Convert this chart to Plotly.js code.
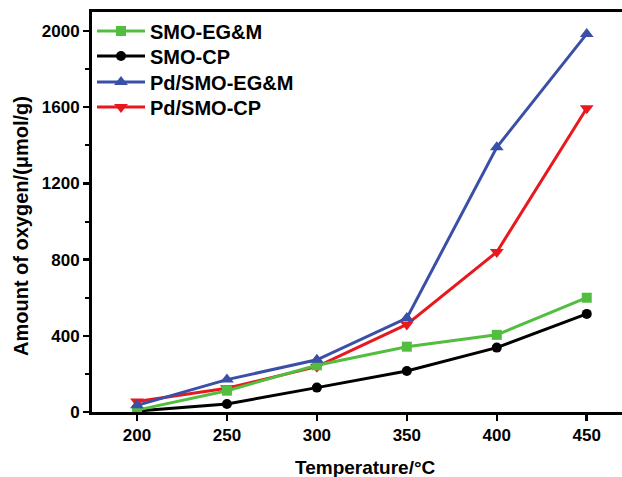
<!DOCTYPE html>
<html>
<head>
<meta charset="utf-8">
<script src="https://cdn.plot.ly/plotly-3.0.1.min.js"></script>
<style>html,body{margin:0;padding:0;background:#fff;}#chart{width:622px;height:477px;}</style>
</head>
<body>
<div id="chart"></div>
<script>
var temperatures = [200, 250, 300, 350, 400, 450];
var smoEGM = [10, 112, 245, 343, 405, 600];
var smoCP = [5, 42, 128, 215, 338, 515];
var pdSmoEGM = [35, 170, 274, 493, 1390, 1985];
var pdSmoCP = [55, 125, 238, 460, 840, 1595];
var seriesNames = ['SMO-EG&M', 'SMO-CP', 'Pd/SMO-EG&M', 'Pd/SMO-CP'];
var yTickValues = [0, 400, 800, 1200, 1600, 2000];
var xTickValues = [200, 250, 300, 350, 400, 450];

var fontFam = '"Liberation Sans", Arial, sans-serif';

function mk(name, y, color, symbol, size, legendId) {
  return {
    x: temperatures, y: y, name: name, type: 'scatter', mode: 'lines+markers',
    line: {color: color, width: 3},
    marker: {color: color, symbol: symbol, size: size},
    legend: legendId
  };
}

var traces = [
  mk(seriesNames[3], pdSmoCP, '#e8191e', 'triangle-down', 12, 'legend4'),
  mk(seriesNames[1], smoCP, '#000000', 'circle', 10, 'legend2'),
  mk(seriesNames[0], smoEGM, '#52bd3f', 'square', 10, 'legend'),
  mk(seriesNames[2], pdSmoEGM, '#3a4fa6', 'triangle-up', 12, 'legend3')
];

function leg(py) {
  return {
    x: 0.0, y: (412 - py) / 400, xanchor: 'left', yanchor: 'middle',
    bgcolor: 'rgba(0,0,0,0)', borderwidth: 0,
    font: {family: fontFam, size: 20, color: '#000', weight: 700},
    itemwidth: 48
  };
}

var layout = {
  width: 622, height: 477,
  margin: {l: 92, r: 0, t: 12, b: 65},
  paper_bgcolor: '#fff', plot_bgcolor: '#fff',
  font: {family: fontFam, color: '#000', weight: 700},
  showlegend: true,
  legend: leg(31),
  legend2: leg(56),
  legend3: leg(82),
  legend4: leg(107),
  xaxis: {
    range: [175, 469.6], tickvals: xTickValues,
    ticks: 'outside', ticklen: 6, tickwidth: 2.5, tickcolor: '#000',
    showline: true, linewidth: 3, linecolor: '#000', mirror: true,
    showgrid: false, zeroline: false,
    tickfont: {family: fontFam, size: 17, color: '#000', weight: 700}
  },
  yaxis: {
    range: [0, 2100], tickvals: yTickValues,
    ticks: 'outside', ticklen: 6, tickwidth: 2.5, tickcolor: '#000',
    minor: {dtick: 200, ticks: 'outside', ticklen: 4, tickwidth: 2, tickcolor: '#000', showgrid: false},
    showline: true, linewidth: 3, linecolor: '#000', mirror: false,
    showgrid: false, zeroline: false,
    tickfont: {family: fontFam, size: 17, color: '#000', weight: 700}
  },
  annotations: [
    {text: 'Temperature/°C', xref: 'paper', yref: 'paper',
     x: (365 - 92) / 530, y: (412 - 467) / 400, xanchor: 'center', yanchor: 'middle',
     showarrow: false, font: {family: fontFam, size: 19, color: '#000', weight: 700}},
    {text: 'Amount of oxygen/(μmol/g)', xref: 'paper', yref: 'paper', textangle: -90,
     x: (21 - 92) / 530, y: (412 - 226) / 400, xanchor: 'center', yanchor: 'middle',
     showarrow: false, font: {family: fontFam, size: 20, color: '#000', weight: 700}}
  ]
};

Plotly.newPlot('chart', traces, layout, {displayModeBar: false, staticPlot: true});
</script>
</body>
</html>
